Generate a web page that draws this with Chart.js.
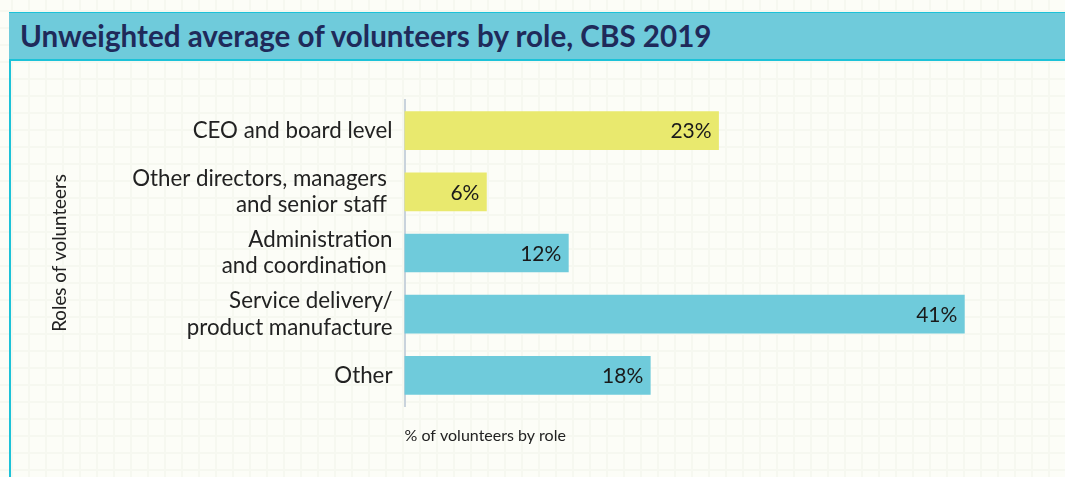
<!DOCTYPE html>
<html>
<head>
<meta charset="utf-8">
<script src="https://cdn.jsdelivr.net/npm/chart.js@4/dist/chart.umd.min.js"></script>
<style>
  html, body { margin: 0; padding: 0; }
  body {
    width: 1065px; height: 477px; overflow: hidden; position: relative;
    background-color: #fcfdf7;
    background-image:
      linear-gradient(to right, #f6f8f0 0, #f6f8f0 2px, transparent 2px),
      linear-gradient(to bottom, #f6f8f0 0, #f6f8f0 2px, transparent 2px);
    background-size: 17px 17px;
    background-position: 11px 10px;
  }
  #panel-edge {
    position: absolute; left: 9px; top: 12px; width: 2px; height: 465px;
    background: #1cc2d8;
  }
  #title {
    position: absolute; left: 9px; top: 12px; right: -4px; height: 46px;
    background: #6fcbdb;
    border-top: 1px solid #1cc2d8; border-bottom: 2px solid #1cc2d8;
    font-family: Lato, sans-serif; font-weight: 700; font-size: 29.6px;
    color: #1f2a5a; line-height: 46px; padding-left: 11px; box-sizing: content-box;
  }
  #wrap { position: absolute; left: 0; top: 0; width: 1065px; height: 477px; }
</style>
</head>
<body>
<div id="panel-edge"></div>
<div id="title">Unweighted average of volunteers by role, CBS 2019</div>
<div id="wrap"><canvas id="chart"></canvas></div>
<script>
// Volunteer roles and their share of volunteers (%)
const roles = [
  "CEO and board level",
  ["Other directors, managers ", "and senior staff "],
  ["Administration", "and coordination "],
  ["Service delivery/", "product manufacture"],
  "Other"
];
const shares = [23, 6, 12, 41, 18];
const barColors = ["#e9e96e", "#e9e96e", "#6fcbdb", "#6fcbdb", "#6fcbdb"];
const xAxisTitle = "% of volunteers by role";
const yAxisTitle = "Roles of volunteers";

const FONT = "Lato, sans-serif";

// Writes each percentage inside the right end of its bar
const valueLabels = {
  id: "valueLabels",
  afterDatasetsDraw(chart) {
    const ctx = chart.ctx;
    const meta = chart.getDatasetMeta(0);
    ctx.save();
    ctx.font = "21px " + FONT;
    ctx.fillStyle = "#1a1a1a";
    ctx.textAlign = "right";
    ctx.textBaseline = "middle";
    meta.data.forEach((bar, i) => {
      ctx.fillText(shares[i] + "%", bar.x - 7, bar.y + 1);
    });
    ctx.restore();
  }
};

new Chart(document.getElementById("chart"), {
  type: "bar",
  data: {
    labels: roles,
    datasets: [{
      data: shares,
      backgroundColor: barColors,
      borderWidth: 0,
      barThickness: 38
    }]
  },
  options: {
    indexAxis: "y",
    responsive: true,
    maintainAspectRatio: false,
    animation: false,
    layout: { padding: { left: 46, right: 46, top: 100, bottom: 28 } },
    plugins: { legend: { display: false }, tooltip: { enabled: false } },
    scales: {
      x: {
        min: 0, max: 45,
        grid: { display: false, drawTicks: false },
        border: { display: false },
        ticks: { display: false },
        title: {
          display: true, text: xAxisTitle, align: "start",
          color: "#222", font: { family: FONT, size: 16 },
          padding: { top: 4, bottom: 4 }
        },
        afterFit(scale) { scale.height = 43; }
      },
      y: {
        grid: { display: false, drawTicks: false },
        border: { display: true, color: "#c9d3dc", width: 2 },
        ticks: {
          color: "#222", padding: 12,
          font: { family: FONT, size: 22.3, lineHeight: 1.18 }
        },
        title: {
          display: true, text: yAxisTitle,
          color: "#222", font: { family: FONT, size: 18.8 },
          padding: { top: 3, bottom: 4 }
        },
        afterFit(scale) { scale.width = 358.5; }
      }
    }
  },
  plugins: [valueLabels]
});
</script>
</body>
</html>
